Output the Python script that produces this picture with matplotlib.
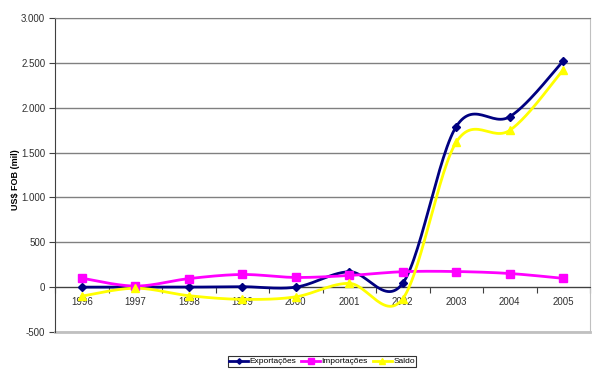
import numpy as np
import matplotlib
matplotlib.use("Agg")
import matplotlib.pyplot as plt
from matplotlib.lines import Line2D

years = ["1996", "1997", "1998", "1999", "2000", "2001", "2002", "2003", "2004", "2005"]
exportacoes = [0, 0, 0, 5, 0, 172, 43, 1790, 1900, 2520]
importacoes = [100, 12, 95, 141, 108, 130, 172, 174, 152, 98]
saldo = [-100, -12, -95, -136, -108, 42, -129, 1616, 1748, 2422]
yticks = [-500, 0, 500, 1000, 1500, 2000, 2500, 3000]
ytick_labels = ["-500", "0", "500", "1.000", "1.500", "2.000", "2.500", "3.000"]

plt.rcParams['font.family'] = ['Liberation Sans', 'DejaVu Sans']


def smooth(x, y, n=30):
    x = np.asarray(x, float)
    y = np.asarray(y, float)
    P = np.column_stack([x, y])
    Pext = np.vstack([P[0], P, P[-1]])
    out = []
    t = np.linspace(0, 1, n)[:, None]
    for i in range(len(P) - 1):
        p0 = Pext[i + 1]
        p3 = Pext[i + 2]
        c1 = p0 + (Pext[i + 2] - Pext[i]) / 6.0
        c2 = p3 - (Pext[i + 3] - Pext[i + 1]) / 6.0
        seg = ((1 - t) ** 3) * p0 + 3 * ((1 - t) ** 2) * t * c1 + 3 * (1 - t) * t ** 2 * c2 + t ** 3 * p3
        out.append(seg if i == 0 else seg[1:])
    S = np.vstack(out)
    return S[:, 0], S[:, 1]


fig = plt.figure(figsize=(6.0, 3.73), dpi=100)
ax = fig.add_axes([55 / 600, 41 / 373, 535 / 600, 314 / 373])

x = np.arange(len(years))
series = [
    (exportacoes, "#000080", "D", 4, "Exportações"),
    (importacoes, "#FF00FF", "s", 6, "Importações"),
    (saldo, "#FFFF00", "^", 6, "Saldo"),
]
handles = []
for vals, col, mk, ms, lab in series:
    sx, sy = smooth(x, vals)
    ax.plot(sx, sy, color=col, lw=2, zorder=3, solid_capstyle='round')
    ax.plot(x, vals, linestyle='none', marker=mk, color=col, ms=ms, zorder=4)
    handles.append(Line2D([], [], color=col, lw=2, marker=mk, ms=ms * 0.7, label=lab))

ax.set_xlim(-0.5, len(years) - 0.5)
ax.set_ylim(-500, 3000)

ax.set_yticks(yticks)
ax.set_yticklabels(ytick_labels)
ax.yaxis.grid(True, color="#808080", lw=1)
ax.set_axisbelow(True)
ax.tick_params(axis='y', direction='out', length=4, color="#404040", pad=3,
               labelsize=7, labelcolor="#303030")

ax.set_xticks(np.arange(-0.5, len(years), 1.0))
ax.set_xticklabels([])
ax.set_xticks(x, minor=True)
ax.set_xticklabels(years, minor=True)
ax.tick_params(axis='x', which='major', direction='out', length=4, color="#404040")
ax.tick_params(axis='x', which='minor', length=0, pad=7, labelsize=7, labelcolor="#303030")

ax.spines['bottom'].set_position(('data', 0))
ax.spines['bottom'].set_color("#404040")
ax.spines['left'].set_color("#404040")
ax.spines['right'].set_color("#C0C0C0")
ax.spines['top'].set_color("#808080")
ax.axhline(-500, color="#C0C0C0", lw=2, zorder=1, clip_on=False)

fig.text(15 / 600, 1 - 180 / 373, "US$ FOB (mil)", fontsize=6.5, fontweight='bold',
         rotation=90, ha='center', va='center')

leg = fig.legend(handles=handles, loc='center', bbox_to_anchor=(322 / 600, 1 - 361.5 / 373),
                 ncol=3, fontsize=6, frameon=True, fancybox=False, edgecolor='black',
                 handlelength=2.3, handletextpad=0.15, columnspacing=0.6, borderpad=0.15,
                 borderaxespad=0)
leg.get_frame().set_linewidth(0.8)

fig.savefig("out.png", dpi=100)
